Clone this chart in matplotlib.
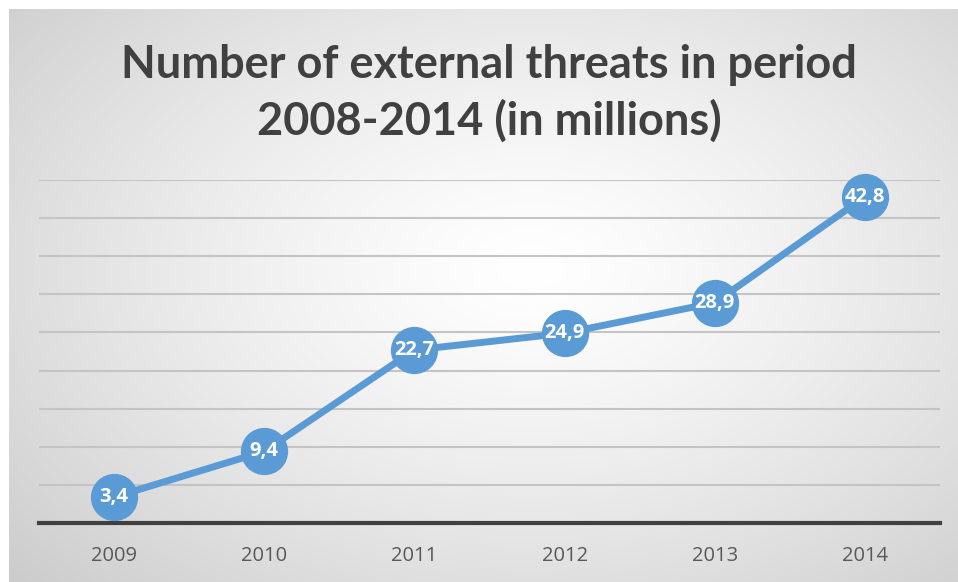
import numpy as np
import matplotlib
matplotlib.use("Agg")
import matplotlib.pyplot as plt

years = ["2009", "2010", "2011", "2012", "2013", "2014"]
threats = [3.4, 9.4, 22.7, 24.9, 28.9, 42.8]
labels = ["3,4", "9,4", "22,7", "24,9", "28,9", "42,8"]
title = "Number of external threats in period\n2008-2014 (in millions)"

W, H = 958, 582
fig = plt.figure(figsize=(W / 100, H / 100), dpi=100)
fig.patch.set_facecolor("white")

# radial gradient background panel
bg = fig.add_axes([9 / W, 0, (W - 9) / W, (H - 9) / H])
bx = np.linspace(0, 1, 400)
by = np.linspace(0, 1, 260)
X, Y = np.meshgrid(bx, by)
cx, cy = 0.55, 0.55
R = np.sqrt(((X - cx) / 0.75) ** 2 + ((Y - cy) / 0.8) ** 2)
R = np.clip(R, 0, 1)
val = 1.0 - 0.20 * R ** 1.3
bg.imshow(np.dstack([val, val, val]), extent=[0, 1, 0, 1], origin="lower", aspect="auto")
bg.axis("off")

ax = fig.add_axes([39 / W, (H - 523) / H, (940 - 39) / W, (523 - 180) / H])
ax.patch.set_alpha(0)
x = np.arange(len(years))
ax.set_xlim(-0.5, len(years) - 0.5)
ax.set_ylim(0, 45)
ax.set_yticks(np.arange(5, 50, 5))
ax.yaxis.grid(True, color="#c4c4c4", linewidth=1.5)
ax.set_axisbelow(True)
for s in ["top", "right", "left"]:
    ax.spines[s].set_visible(False)
ax.spines["bottom"].set_color("#404040")
ax.spines["bottom"].set_linewidth(3)
ax.tick_params(axis="y", left=False, labelleft=False)
ax.tick_params(axis="x", bottom=False, pad=13, labelsize=14.5, labelcolor="#595959")
ax.set_xticks(x)
ax.set_xticklabels(years, family="Open Sans")

ax.plot(x, threats, color="#5b9bd5", linewidth=5, marker="o", markersize=33,
        markerfacecolor="#5b9bd5", markeredgecolor="#5b9bd5", clip_on=False, zorder=3)
for xi, yi, lb in zip(x, threats, labels):
    ax.text(xi, yi, lb, ha="center", va="center", color="white", fontsize=14.5,
            fontweight="bold", family="Open Sans", zorder=4)

fig.text(489 / W, 1 - 93 / H, title, ha="center", va="center", fontsize=32.5, fontweight="bold",
         color="#404040", family="Lato", linespacing=1.38)

fig.savefig("out.png", dpi=100)
